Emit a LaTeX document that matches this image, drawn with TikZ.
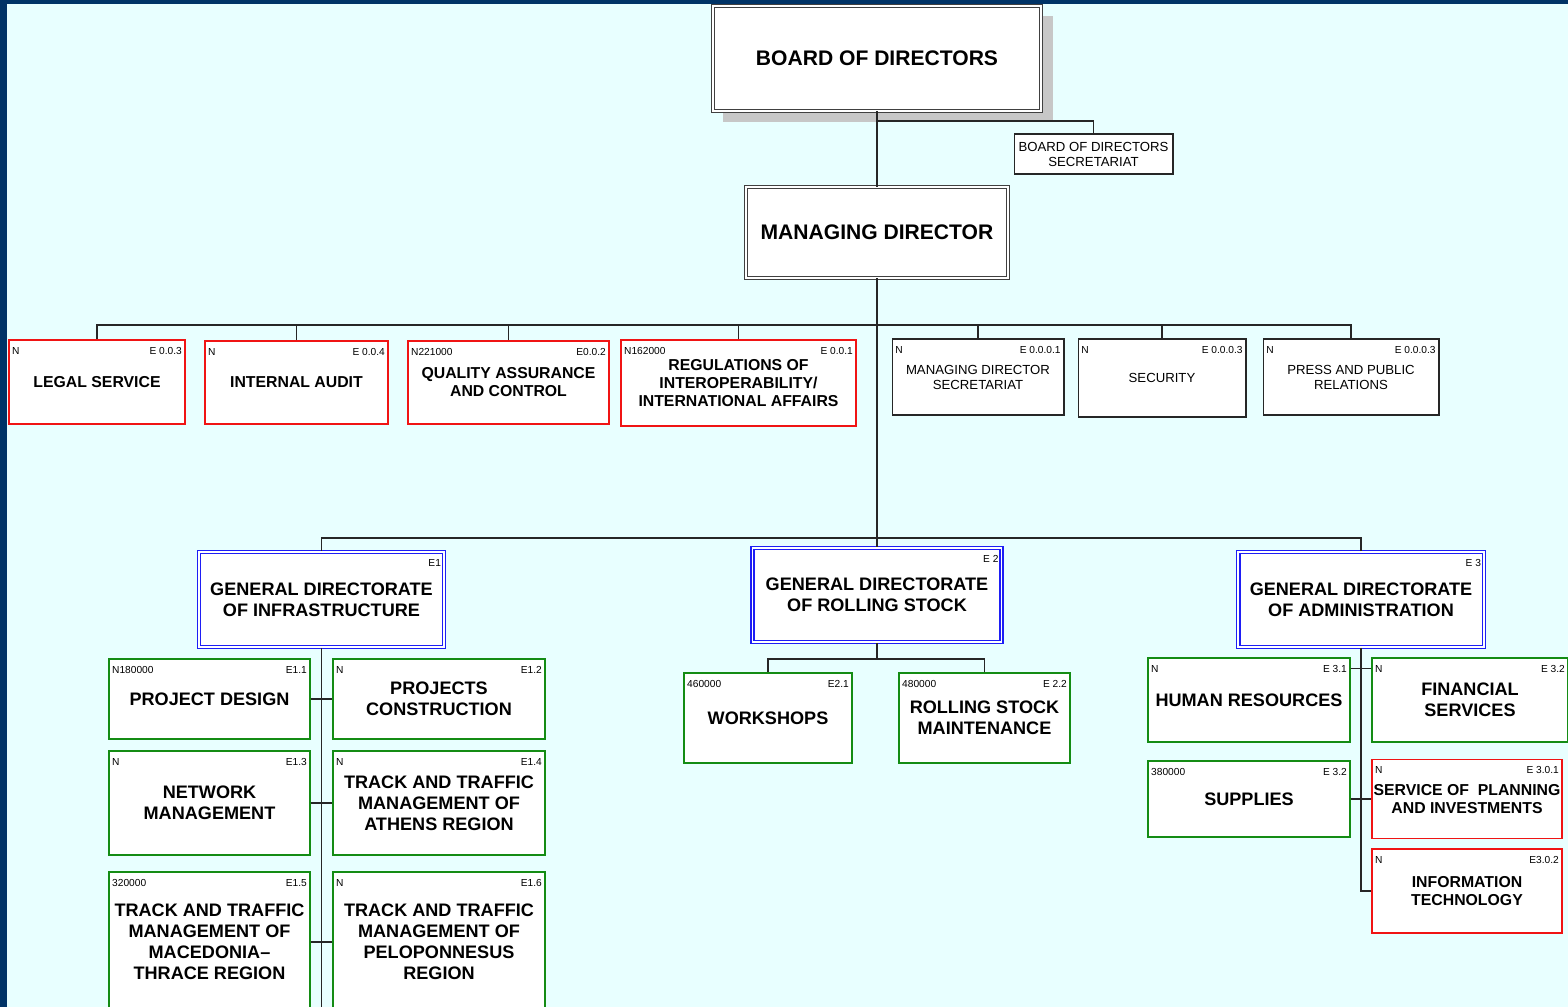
\documentclass[tikz,border=0pt]{standalone}
\usepackage{fontspec}
\setmainfont{Liberation Sans}
\definecolor{pagebg}{RGB}{232,255,255}
\definecolor{frame}{RGB}{0,51,102}
\definecolor{redline}{RGB}{240,20,20}
\definecolor{greenline}{RGB}{20,140,20}
\definecolor{blueline}{RGB}{30,30,245}
\begin{document}
\begin{tikzpicture}[x=0.02cm, y=-0.02cm,
  wh/.style 2 args={minimum width=#1, minimum height=#2},
  box/.style={fill=white, align=center, inner sep=0pt},
  topbox/.style={box, draw=black!75, double=white, double distance=1.4pt, line width=0.5pt, font=\bfseries\fontsize{12}{14}\selectfont},
  blkbox/.style={box, draw=black!85, line width=0.6pt, font=\fontsize{7.5}{8.5}\selectfont},
  redbox/.style={box, draw=redline, line width=0.8pt, font=\bfseries\fontsize{9}{10.2}\selectfont},
  gdbox/.style={box, draw=blueline, double=white, double distance=0.9pt, line width=0.95pt, font=\bfseries\fontsize{10.3}{11.9}\selectfont},
  grnbox/.style={box, draw=greenline, line width=0.8pt, font=\bfseries\fontsize{10.3}{11.9}\selectfont},
  tagl/.style={anchor=north west, inner xsep=2pt, inner ysep=4.3pt, font=\fontsize{5.8}{6.5}\selectfont},
  tagr/.style={anchor=north east, inner xsep=2pt, inner ysep=4.3pt, font=\fontsize{5.8}{6.5}\selectfont},
  link/.style={draw=black!85, line width=0.6pt}]
\useasboundingbox (0,0) rectangle (1568,1007);
\clip (0,0) rectangle (1568,1007);
\fill[pagebg] (0,0) rectangle (1568,1007);
\fill[frame] (0,0) rectangle (1568,4);
\fill[frame] (0,0) rectangle (7,1007);

\fill[black!22] (723,16) rectangle (1053,122);
\node[topbox, wh={6.56cm}{2.10cm}] (board) at (877,58.5) {BOARD OF DIRECTORS};
\node[blkbox, wh={3.18cm}{0.80cm}] (bdsec) at (1093.5,154) {BOARD OF DIRECTORS\\SECRETARIAT};
\node[topbox, wh={5.24cm}{1.82cm}] (md) at (877,232.5) {MANAGING DIRECTOR};

\node[redbox, wh={3.52cm}{1.68cm}] (legal) at (97,382) {LEGAL SERVICE};
\node[tagl] (legal-n) at (legal.north west) {N};
\node[tagr] (legal-e) at (legal.north east) {E 0.0.3};
\node[redbox, wh={3.66cm}{1.66cm}] (audit) at (296.5,382.5) {INTERNAL AUDIT};
\node[tagl] (audit-n) at (audit.north west) {N};
\node[tagr] (audit-e) at (audit.north east) {E 0.0.4};
\node[redbox, wh={4.02cm}{1.66cm}] (qa) at (508.5,382.5) {QUALITY ASSURANCE\\AND CONTROL};
\node[tagl] (qa-n) at (qa.north west) {N221000};
\node[tagr] (qa-e) at (qa.north east) {E0.0.2};
\node[redbox, wh={4.70cm}{1.72cm}] (reg) at (738.5,383) {REGULATIONS OF\\INTEROPERABILITY/\\INTERNATIONAL AFFAIRS};
\node[tagl] (reg-n) at (reg.north west) {N162000};
\node[tagr] (reg-e) at (reg.north east) {E 0.0.1};
\node[blkbox, wh={3.44cm}{1.52cm}] (mdsec) at (978,377) {MANAGING DIRECTOR\\SECRETARIAT};
\node[tagl] (mdsec-n) at (mdsec.north west) {N};
\node[tagr] (mdsec-e) at (mdsec.north east) {E 0.0.0.1};
\node[blkbox, wh={3.36cm}{1.56cm}] (secur) at (1162,378) {SECURITY};
\node[tagl] (secur-n) at (secur.north west) {N};
\node[tagr] (secur-e) at (secur.north east) {E 0.0.0.3};
\node[blkbox, wh={3.52cm}{1.52cm}] (press) at (1351,377) {PRESS AND PUBLIC\\RELATIONS};
\node[tagl] (press-n) at (press.north west) {N};
\node[tagr] (press-e) at (press.north east) {E 0.0.0.3};

\node[gdbox, wh={4.90cm}{1.90cm}] (gdi) at (321.5,599.5) {GENERAL DIRECTORATE\\OF INFRASTRUCTURE};
\node[tagr] (gdi-e) at (gdi.north east) {E1};
\node[gdbox, wh={4.98cm}{1.88cm}] (gdrs) at (877,595) {GENERAL DIRECTORATE\\OF ROLLING STOCK};
\node[tagr] (gdrs-e) at (gdrs.north east) {E 2};
\node[gdbox, wh={4.92cm}{1.90cm}] (gda) at (1361,599.5) {GENERAL DIRECTORATE\\OF ADMINISTRATION};
\node[tagr] (gda-e) at (gda.north east) {E 3};

\node[grnbox, wh={4.02cm}{1.60cm}] (pd) at (209.5,699) {PROJECT DESIGN};
\node[tagl] (pd-n) at (pd.north west) {N180000};
\node[tagr] (pd-e) at (pd.north east) {E1.1};
\node[grnbox, wh={4.24cm}{1.60cm}] (pc) at (439,699) {PROJECTS\\CONSTRUCTION};
\node[tagl] (pc-n) at (pc.north west) {N};
\node[tagr] (pc-e) at (pc.north east) {E1.2};
\node[grnbox, wh={4.02cm}{2.08cm}] (nm) at (209.5,803) {NETWORK\\MANAGEMENT};
\node[tagl] (nm-n) at (nm.north west) {N};
\node[tagr] (nm-e) at (nm.north east) {E1.3};
\node[grnbox, wh={4.24cm}{2.08cm}] (ath) at (439,803) {TRACK AND TRAFFIC\\MANAGEMENT OF\\ATHENS REGION};
\node[tagl] (ath-n) at (ath.north west) {N};
\node[tagr] (ath-e) at (ath.north east) {E1.4};
\node[grnbox, wh={4.02cm}{2.80cm}] (mac) at (209.5,942) {TRACK AND TRAFFIC\\MANAGEMENT OF\\MACEDONIA–\\THRACE REGION};
\node[tagl] (mac-n) at (mac.north west) {320000};
\node[tagr] (mac-e) at (mac.north east) {E1.5};
\node[grnbox, wh={4.24cm}{2.80cm}] (pel) at (439,942) {TRACK AND TRAFFIC\\MANAGEMENT OF\\PELOPONNESUS\\REGION};
\node[tagl] (pel-n) at (pel.north west) {N};
\node[tagr] (pel-e) at (pel.north east) {E1.6};

\node[grnbox, wh={3.36cm}{1.80cm}] (ws) at (768,718) {WORKSHOPS};
\node[tagl] (ws-n) at (ws.north west) {460000};
\node[tagr] (ws-e) at (ws.north east) {E2.1};
\node[grnbox, wh={3.42cm}{1.80cm}] (rsm) at (984.5,718) {ROLLING STOCK\\MAINTENANCE};
\node[tagl] (rsm-n) at (rsm.north west) {480000};
\node[tagr] (rsm-e) at (rsm.north east) {E 2.2};

\node[grnbox, wh={4.04cm}{1.68cm}] (hr) at (1249,700) {HUMAN RESOURCES};
\node[tagl] (hr-n) at (hr.north west) {N};
\node[tagr] (hr-e) at (hr.north east) {E 3.1};
\node[grnbox, wh={3.92cm}{1.68cm}] (fin) at (1470,700) {FINANCIAL\\SERVICES};
\node[tagl] (fin-n) at (fin.north west) {N};
\node[tagr] (fin-e) at (fin.north east) {E 3.2};
\node[grnbox, wh={4.04cm}{1.52cm}] (sup) at (1249,799) {SUPPLIES};
\node[tagl] (sup-n) at (sup.north west) {380000};
\node[tagr] (sup-e) at (sup.north east) {E 3.2};
\node[redbox, wh={3.80cm}{1.58cm}] (plan) at (1467,799) {SERVICE OF \ PLANNING\\AND INVESTMENTS};
\node[tagl] (plan-n) at (plan.north west) {N};
\node[tagr] (plan-e) at (plan.north east) {E 3.0.1};
\node[redbox, wh={3.80cm}{1.68cm}] (it) at (1467,891) {INFORMATION\\TECHNOLOGY};
\node[tagl] (it-n) at (it.north west) {N};
\node[tagr] (it-e) at (it.north east) {E3.0.2};

\coordinate (bj) at (877,121);
\coordinate (b1) at (877,325);
\coordinate (b2) at (877,538);
\coordinate (b3) at (877,659);
\draw[link] (board.south) -- (md.north);
\draw[link] (bdsec.north) |- (bj);
\draw[link] (md.south) -- (gdrs.north);
\foreach \u in {legal,audit,qa,reg,mdsec,secur,press}
  \draw[link] (\u.north) |- (b1);
\draw[link] (gdi.north) |- (b2);
\draw[link] (gda.north) |- (b2);
\draw[link] (gdi.south) -- (gdi.south |- mac.south);
\draw[link] (pd) -- (pc);
\draw[link] (nm) -- (ath);
\draw[link] (mac) -- (pel);
\draw[link] (gdrs.south) -- (b3);
\draw[link] (ws.north) |- (b3);
\draw[link] (rsm.north) |- (b3);
\draw[link] (gda.south) |- (it.west);
\draw[link] ([yshift=-0.22cm]hr.north east) -- ([yshift=-0.22cm]fin.north west);
\draw[link] (sup) -- (plan);
\end{tikzpicture}
\end{document}
